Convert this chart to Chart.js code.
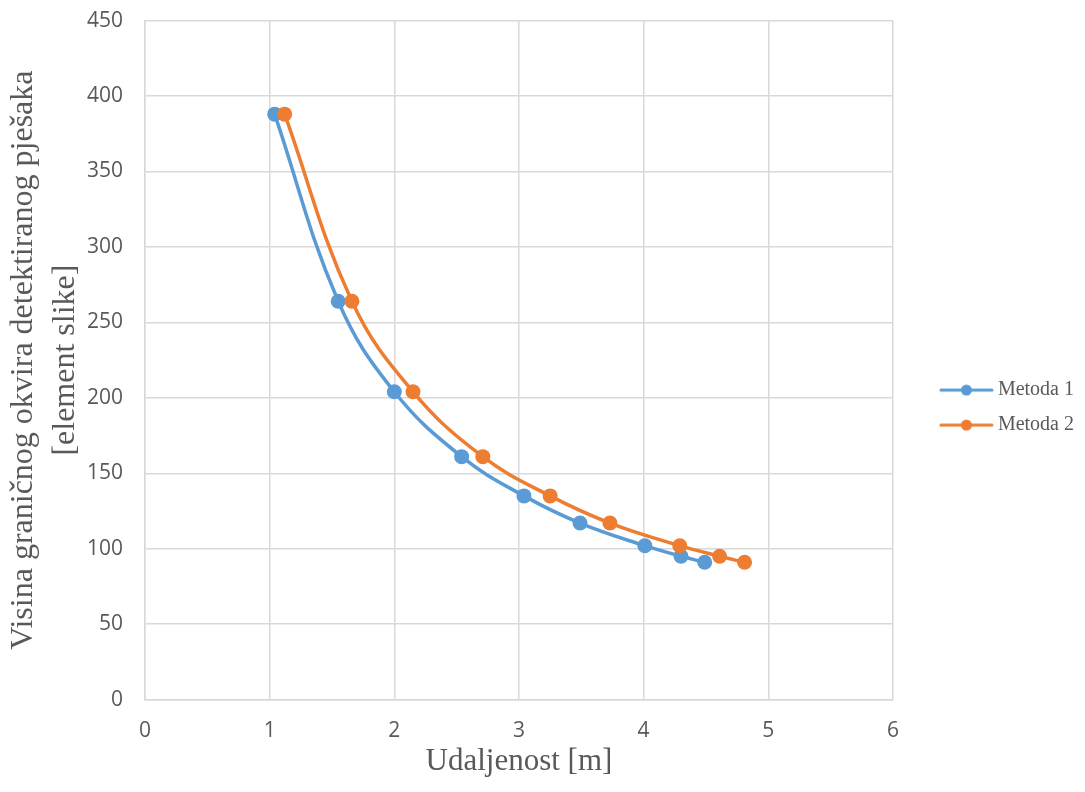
<!DOCTYPE html>
<html>
<head>
<meta charset="utf-8">
<script src="https://cdn.jsdelivr.net/npm/chart.js@4.4.1/dist/chart.umd.min.js"></script>
<style>
  html, body { margin: 0; padding: 0; background: #fff; }
  #wrap { width: 1085px; height: 792px; position: relative; }
</style>
</head>
<body>
<div id="wrap"><canvas id="chart"></canvas></div>
<script>
const seriesNames = ['Metoda 1', 'Metoda 2'];
const seriesColors = ['#5B9BD5', '#ED7D31'];
const distance1 = [1.04, 1.55, 2.0, 2.54, 3.04, 3.49, 4.01, 4.30, 4.49];
const distance2 = [1.12, 1.66, 2.15, 2.71, 3.25, 3.73, 4.29, 4.61, 4.81];
const boxHeight = [388, 264, 204, 161, 135, 117, 102, 95, 91];
const xTitle = 'Udaljenost [m]';
const yTitle = ['Visina graničnog okvira detektiranog pješaka', '[element slike]'];

const gridColor = '#d9d9d9';
const textColor = '#595959';
const tickFont = { family: '"Open Sans", sans-serif', size: 21 };
const serif = '"Liberation Serif", "Times New Roman", serif';

// legend symbol: line with a dot, drawn on a small canvas
function makeLegendIcon(color) {
  const c = document.createElement('canvas');
  c.width = 92;
  c.height = 16;
  const g = c.getContext('2d');
  g.strokeStyle = color;
  g.lineWidth = 3;
  g.lineCap = 'round';
  g.beginPath();
  g.moveTo(39, 8);
  g.lineTo(90, 8);
  g.stroke();
  g.fillStyle = color;
  g.beginPath();
  g.arc(64.5, 8, 5.5, 0, Math.PI * 2);
  g.fill();
  return c;
}
const legendIcons = seriesColors.map(makeLegendIcon);

const toPoints = (xs, ys) => xs.map((x, i) => ({ x: x, y: ys[i] }));

const ctx = document.getElementById('chart').getContext('2d');
new Chart(ctx, {
  type: 'scatter',
  data: {
    datasets: [
      {
        label: seriesNames[0],
        data: toPoints(distance1, boxHeight),
        showLine: true,
        borderColor: seriesColors[0],
        backgroundColor: seriesColors[0],
        borderWidth: 3.5,
        tension: 0.4,
        pointRadius: 7.5,
        pointHoverRadius: 7.5,
        pointBorderWidth: 0,
        order: 1
      },
      {
        label: seriesNames[1],
        data: toPoints(distance2, boxHeight),
        showLine: true,
        borderColor: seriesColors[1],
        backgroundColor: seriesColors[1],
        borderWidth: 3.5,
        tension: 0.4,
        pointRadius: 7.5,
        pointHoverRadius: 7.5,
        pointBorderWidth: 0,
        order: 0
      }
    ]
  },
  options: {
    responsive: true,
    maintainAspectRatio: false,
    animation: false,
    layout: { padding: { top: 8, right: 1, bottom: 4, left: 3 } },
    scales: {
      x: {
        type: 'linear',
        min: 0,
        max: 6,
        ticks: { stepSize: 1, padding: 19, color: textColor, font: tickFont },
        grid: { color: gridColor, lineWidth: 1.5, drawTicks: false },
        border: { color: gridColor, width: 1.5 },
        title: {
          display: true,
          text: xTitle,
          color: textColor,
          padding: { top: -20, bottom: 8 },
          font: { family: serif, size: 31 }
        }
      },
      y: {
        min: 0,
        max: 450,
        ticks: { stepSize: 50, padding: 8, color: textColor, font: tickFont },
        // invisible tick marks keep the labels away from the axis
        grid: { color: gridColor, lineWidth: 1.5, drawTicks: true, tickLength: 14, tickColor: 'rgba(0,0,0,0)' },
        border: { color: gridColor, width: 1.5 },
        title: {
          display: true,
          text: yTitle,
          color: textColor,
          padding: { top: 0, bottom: -8 },
          font: { family: serif, size: 32, lineHeight: 1.3125 }
        }
      }
    },
    plugins: {
      tooltip: { enabled: false },
      legend: {
        position: 'right',
        title: { display: true, text: '', padding: 9, font: { size: 1 } },
        labels: {
          usePointStyle: true,
          pointStyleWidth: 80,
          padding: 15,
          color: textColor,
          font: { family: serif, size: 20 },
          sort: (a, b) => a.datasetIndex - b.datasetIndex,
          generateLabels: (chart) => {
            const items = Chart.defaults.plugins.legend.labels.generateLabels(chart);
            items.forEach(item => {
              item.pointStyle = legendIcons[item.datasetIndex];
            });
            return items;
          }
        }
      }
    }
  }
});
</script>
</body>
</html>
